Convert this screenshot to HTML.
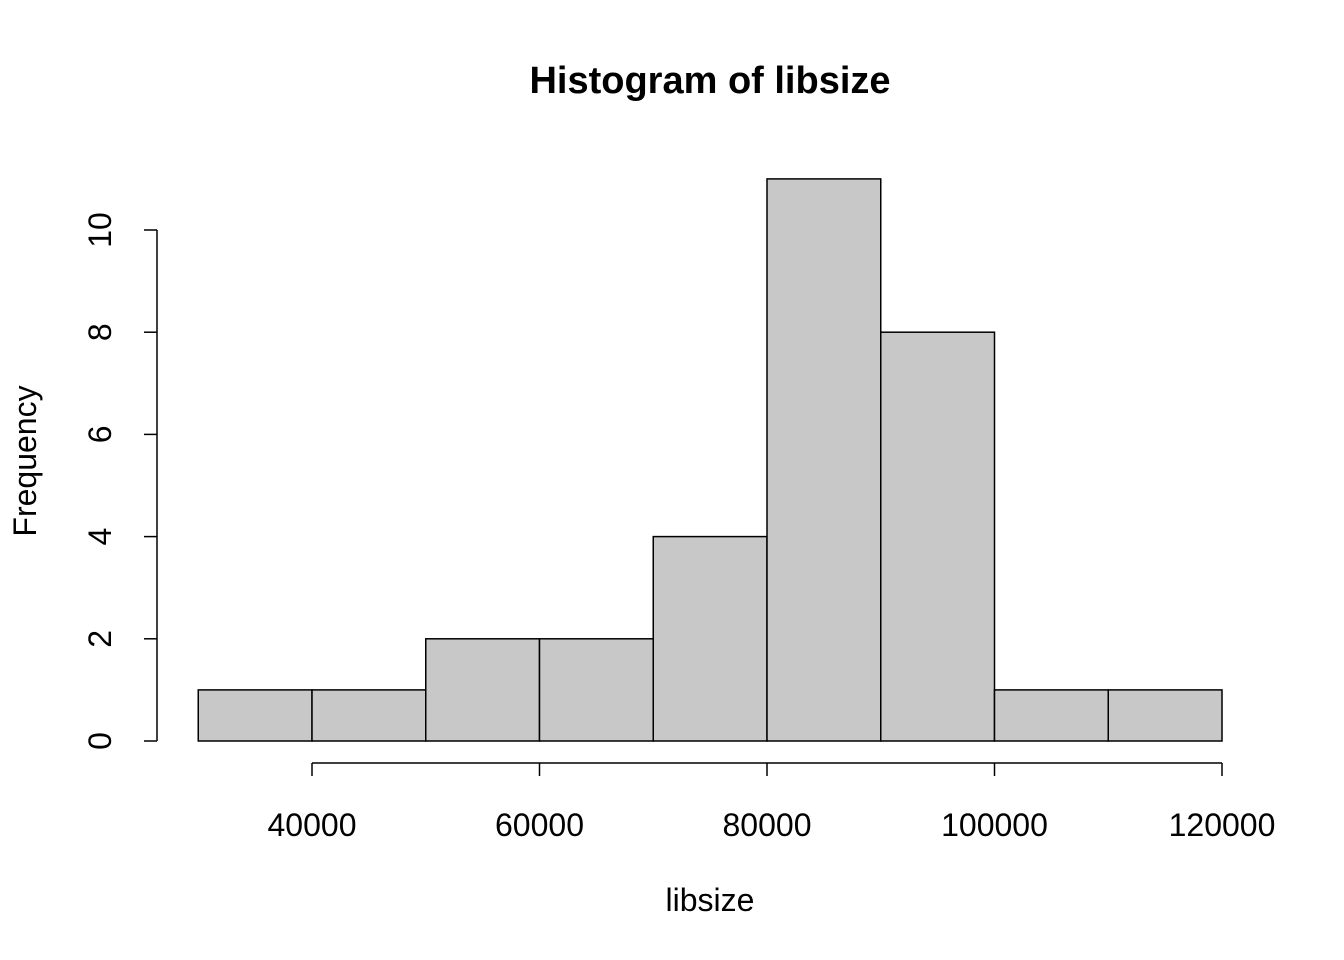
<!DOCTYPE html>
<html>
<head>
<meta charset="utf-8">
<style>
  html,body{margin:0;padding:0;background:#fff;}
  svg{display:block;font-family:"Liberation Sans",Arial,sans-serif;}
</style>
</head>
<body>
<svg id="chart" width="1344" height="960" viewBox="0 0 1344 960" xmlns="http://www.w3.org/2000/svg">
  <text x="710" y="93" text-anchor="middle" font-size="38" font-weight="bold">Histogram of libsize</text>
  <text x="710" y="911" text-anchor="middle" font-size="32">libsize</text>
  <text transform="translate(36,461) rotate(-90)" text-anchor="middle" font-size="32">Frequency</text>
  <g id="bars"></g>
  <g id="xaxis"></g>
  <g id="yaxis"></g>
</svg>
<script>
const binStarts = [30000, 40000, 50000, 60000, 70000, 80000, 90000, 100000, 110000];
const binWidth = 10000;
const counts = [1, 1, 2, 2, 4, 11, 8, 1, 1];
const xTicks = [40000, 60000, 80000, 100000, 120000];
const xTickLabels = ["40000", "60000", "80000", "100000", "120000"];
const yTicks = [0, 2, 4, 6, 8, 10];
const yTickLabels = ["0", "2", "4", "6", "8", "10"];

const NS = "http://www.w3.org/2000/svg";
function xs(v){ return 312 + (v - 40000) * (1222 - 312) / 80000; }
function ys(v){ return 741 - v * (741 - 230) / 10; }
function mk(tag, attrs, parent){
  const e = document.createElementNS(NS, tag);
  for (const k in attrs) e.setAttribute(k, attrs[k]);
  parent.appendChild(e);
  return e;
}
const bars = document.getElementById('bars');
binStarts.forEach((b, i) => {
  const x0 = xs(b), x1 = xs(b + binWidth), y0 = ys(counts[i]), yb = ys(0);
  const r = mk('rect', {x: x0, y: y0, width: x1 - x0, height: yb - y0, fill: '#c8c8c8', stroke: '#000', 'stroke-width': 1.5}, bars);
  
  
});
const xa = document.getElementById('xaxis');
const xl = mk('line', {x1: xs(xTicks[0]), x2: xs(xTicks[xTicks.length-1]), y1: 763, y2: 763, stroke: '#000', 'stroke-width': 1.5}, xa);


xTicks.forEach((t, i) => {
  const tk = mk('line', {x1: xs(t), x2: xs(t), y1: 763, y2: 776, stroke: '#000', 'stroke-width': 1.5}, xa);
  
  
  const tx = mk('text', {x: xs(t), y: 836, 'text-anchor': 'middle', 'font-size': 32}, xa);
  tx.textContent = xTickLabels[i];
  
  
});
const ya = document.getElementById('yaxis');
const yl = mk('line', {x1: 157, x2: 157, y1: ys(yTicks[0]), y2: ys(yTicks[yTicks.length-1]), stroke: '#000', 'stroke-width': 1.5}, ya);


yTicks.forEach((t, i) => {
  const tk = mk('line', {x1: 144, x2: 157, y1: ys(t), y2: ys(t), stroke: '#000', 'stroke-width': 1.5}, ya);
  
  
  const tx = mk('text', {transform: 'translate(111,' + ys(t) + ') rotate(-90)', 'text-anchor': 'middle', 'font-size': 32}, ya);
  tx.textContent = yTickLabels[i];
  
  
});
</script>
</body>
</html>
